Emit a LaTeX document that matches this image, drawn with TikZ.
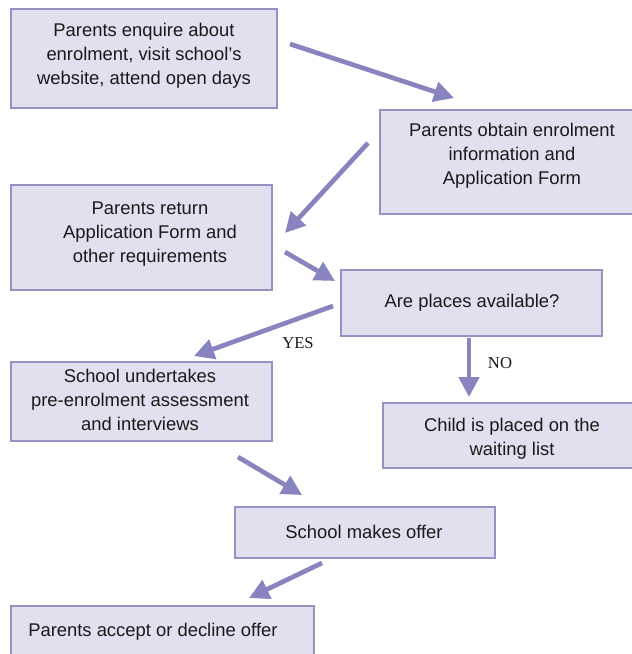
\documentclass[tikz,border=0pt]{standalone}
\usepackage{fontspec}
\setmainfont{Liberation Sans}
\newfontfamily\labserif{Liberation Serif}
\usetikzlibrary{arrows.meta}
\definecolor{boxfill}{HTML}{E1E0EE}
\definecolor{boxline}{HTML}{9592C6}
\definecolor{arrowcol}{HTML}{8784C0}
\definecolor{txt}{HTML}{1A1A1A}
\begin{document}
\begin{tikzpicture}[x=0.75pt,y=-0.75pt,
  stepbox/.style={draw=boxline,fill=boxfill,line width=1.5pt,inner sep=0pt},
  steptext/.style={align=center,text=txt,inner sep=0pt,font=\fontsize{13.8}{18}\selectfont},
  flow/.style={draw=arrowcol,line width=3.5pt,-{Triangle[length=15pt,width=15pt]}},
  choice/.style={text=txt,inner sep=0pt,font=\labserif\fontsize{12.5}{14}\selectfont}]
\clip (0,0) rectangle (632,654);
\fill[white] (0,0) rectangle (632,654);
% boxes
\node[stepbox,minimum width=199.5pt,minimum height=74.25pt] (b1) at (144,58.5) {};
\node[stepbox,minimum width=198pt,minimum height=78pt] (b2) at (512,162) {};
\node[stepbox,minimum width=195.75pt,minimum height=78.75pt] (b3) at (141.5,237.5) {};
\node[stepbox,minimum width=195.75pt,minimum height=49.5pt] (b4) at (471.5,303) {};
\node[stepbox,minimum width=195.75pt,minimum height=59.25pt] (b5) at (141.5,401.5) {};
\node[stepbox,minimum width=193.5pt,minimum height=48.75pt] (b6) at (512,435.5) {};
\node[stepbox,minimum width=195pt,minimum height=38.25pt] (b7) at (365,532.5) {};
\node[stepbox,minimum width=227.25pt,minimum height=55.5pt] (b8) at (162.5,643) {};
% texts
\node[steptext] (t1) at (144,56) {Parents enquire about\\enrolment, visit school’s\\website, attend open days};
\node[steptext] (t2) at (512,156) {Parents obtain enrolment\\information and\\Application Form};
\node[steptext] (t3) at (150,234) {Parents return\\Application Form and\\other requirements};
\node[steptext] (t4) at (472,303) {Are places available?};
\node[steptext] (t5) at (140,400) {School undertakes\\pre-enrolment assessment\\and interviews};
\node[steptext] (t6) at (512,439) {Child is placed on the\\waiting list};
\node[steptext] (t7) at (364,532) {School makes offer};
\node[steptext,anchor=west] (t8) at (28,632) {Parents accept or decline offer};
% labels
\node[choice] (yes) at (298,343) {YES};
\node[choice] (no) at (500,363) {NO};
% arrow end points
\coordinate (a1s) at (290,44);  \coordinate (a1e) at (454,98);
\coordinate (a2s) at (368,143); \coordinate (a2e) at (285,233);
\coordinate (a3s) at (285,252); \coordinate (a3e) at (335,281);
\coordinate (a4s) at (333,306); \coordinate (a4e) at (194,356);
\coordinate (a5s) at (469,338); \coordinate (a5e) at (469,397);
\coordinate (a6s) at (238,457); \coordinate (a6e) at (302,495);
\coordinate (a7s) at (322,563); \coordinate (a7e) at (249,598);
\draw[flow] (a1s) -- (a1e);
\draw[flow] (a2s) -- (a2e);
\draw[flow] (a3s) -- (a3e);
\draw[flow] (a4s) -- (a4e);
\draw[flow] (a5s) -- (a5e);
\draw[flow] (a6s) -- (a6e);
\draw[flow] (a7s) -- (a7e);
\end{tikzpicture}
\end{document}
